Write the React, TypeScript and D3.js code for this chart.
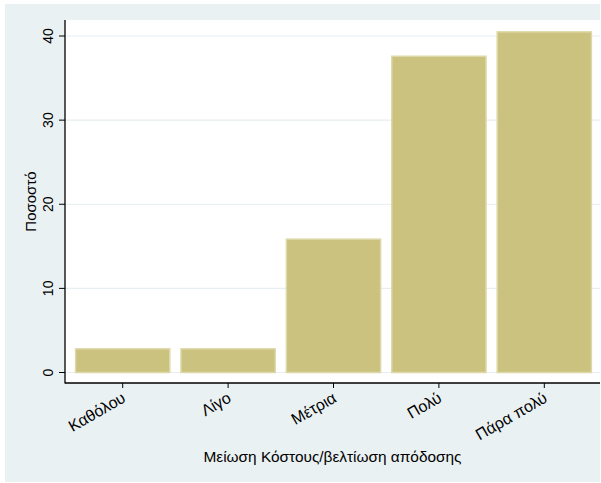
import React from "react";
import * as d3 from "d3";

const categories = ["Καθόλου", "Λίγο", "Μέτρια", "Πολύ", "Πάρα πολύ"];
const values = [2.9, 2.9, 15.94, 37.68, 40.58];
const yTicks = [0, 10, 20, 30, 40];
const xTitle = "Μείωση Κόστους/βελτίωση απόδοσης";
const yTitle = "Ποσοστό";

const W = 601;
const H = 483;
const FONT = "'Liberation Sans', Arial, Helvetica, sans-serif";

export default function App() {
  const plotL = 65;
  const plotR = 600;
  const plotT = 20;
  const axisY = 383;

  const x = d3.scaleBand<string>().domain(categories).range([70, 597]).paddingInner(0.092).paddingOuter(0.046);
  const y = d3.scaleLinear().domain([0, 40]).range([372.5, 36]);

  return (
    <svg width={W} height={H} style={{ position: "absolute", left: 0, top: 0 }}>
      <rect x={0} y={0} width={W} height={H} fill="#ffffff" />
      <rect x={5} y={4} width={595} height={478} fill="#eaf1f3" />
      <rect x={plotL} y={plotT} width={plotR - plotL} height={axisY - plotT} fill="#ffffff" />
      {yTicks.map((t) => (
        <line key={"g" + t} x1={plotL} x2={plotR} y1={y(t)} y2={y(t)} stroke="#e6eef1" strokeWidth={1.2} />
      ))}
      {categories.map((c, i) => (
        <rect
          key={c}
          x={(x(c) as number) + 0.75}
          y={y(values[i]) + 0.75}
          width={x.bandwidth() - 1.5}
          height={y(0) - y(values[i]) - 0.75}
          fill="#cac27e"
          stroke="#ddd8a8"
          strokeWidth={1.5}
        />
      ))}
      <line x1={plotL} x2={plotL} y1={plotT} y2={axisY + 0.5} stroke="#000" strokeWidth={1.3} />
      <line x1={plotL} x2={plotR} y1={axisY} y2={axisY} stroke="#000" strokeWidth={1.3} />
      {yTicks.map((t) => (
        <g key={"yt" + t}>
          <line x1={plotL - 6} x2={plotL} y1={y(t)} y2={y(t)} stroke="#000" strokeWidth={1} />
          <text
            transform={`translate(${52.5},${y(t)}) rotate(-90)`}
            textAnchor="middle"
            fontFamily={FONT}
            fontSize={14}
            fill="#000"
          >
            {t}
          </text>
        </g>
      ))}
      {categories.map((c) => {
        const cx = (x(c) as number) + x.bandwidth() / 2;
        return (
          <g key={"xt" + c}>
            <line x1={cx} x2={cx} y1={axisY} y2={axisY + 5} stroke="#000" strokeWidth={1} />
            <text
              transform={`translate(${cx + 4},${axisY + 18}) rotate(-30)`}
              textAnchor="end"
              fontFamily={FONT}
              fontSize={16}
              fill="#000"
            >
              {c}
            </text>
          </g>
        );
      })}
      <text x={(plotL + plotR) / 2} y={462} textAnchor="middle" fontFamily={FONT} fontSize={15.4} fill="#000">
        {xTitle}
      </text>
      <text
        transform={`translate(${35.5},${(plotT + axisY) / 2}) rotate(-90)`}
        textAnchor="middle"
        fontFamily={FONT}
        fontSize={15}
        fill="#000"
      >
        {yTitle}
      </text>
    </svg>
  );
}
